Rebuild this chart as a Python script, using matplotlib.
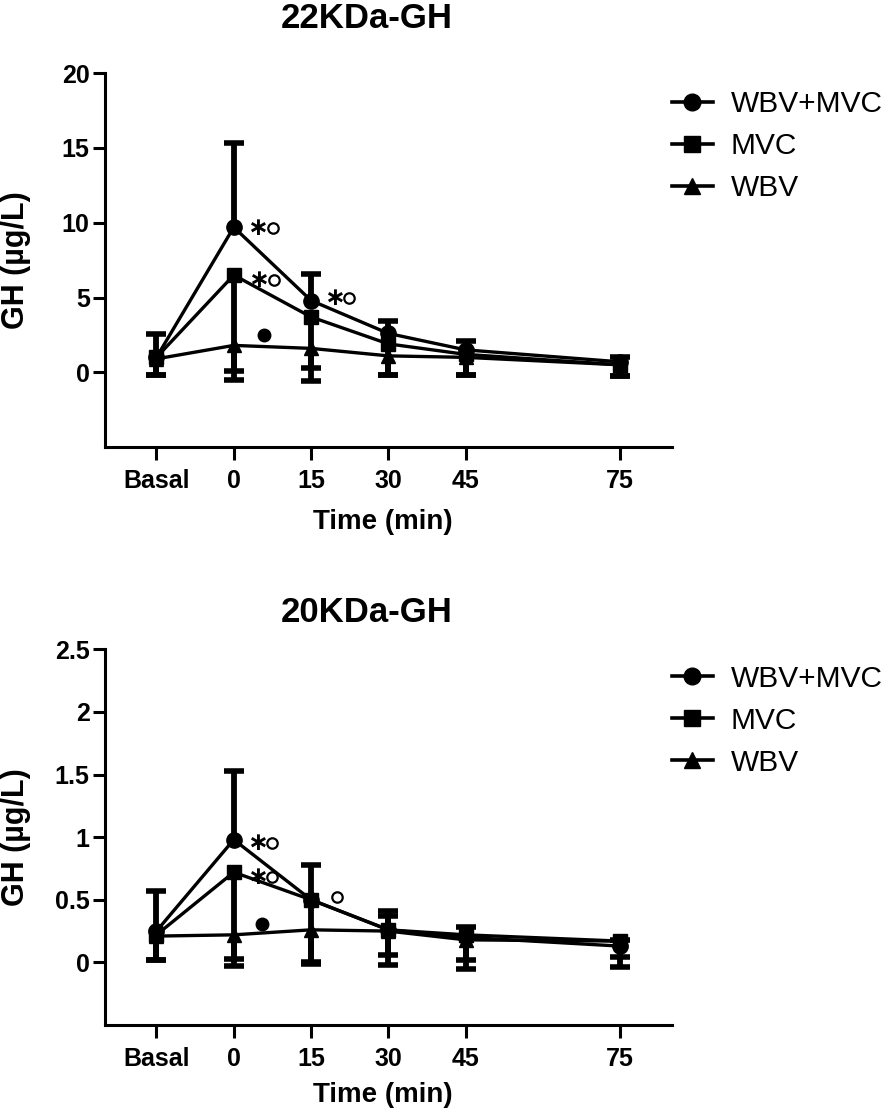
import numpy as np
import matplotlib
matplotlib.use('Agg')
import matplotlib.pyplot as plt
from matplotlib.lines import Line2D
from matplotlib.ticker import FuncFormatter

plt.rcParams['font.family'] = ['Liberation Sans', 'DejaVu Sans']
plt.rcParams['font.weight'] = 'bold'
plt.rcParams['axes.labelweight'] = 'bold'

# --- data -------------------------------------------------------------
time_pos = [-15, 0, 15, 30, 45, 75]
time_labels = ['Basal', '0', '15', '30', '45', '75']
series_names = ['WBV+MVC', 'MVC', 'WBV']
series_markers = ['o', 's', '^']
series_msize = [11, 10, 10]

# 22KDa-GH (ug/L): mean, lower error, upper error
gh22_combo = [1.0, 9.7, 4.8, 2.6, 1.5, 0.7]
gh22_combo_lo = [0, 0, 0, 0, 0, 0]
gh22_combo_up = [1.55, 5.6, 1.8, 0.8, 0.6, 0.3]
gh22_mvc = [1.0, 6.5, 3.7, 1.9, 1.2, 0.5]
gh22_mvc_lo = [1.2, 7.0, 4.3, 2.1, 1.4, 0.75]
gh22_mvc_up = [0, 0, 0, 0, 0, 0]
gh22_wbv = [0.9, 1.8, 1.6, 1.1, 1.0, 0.5]
gh22_wbv_lo = [1.1, 1.7, 1.3, 1.3, 1.2, 0.75]
gh22_wbv_up = [0, 0, 0, 0, 0, 0]

# 20KDa-GH (ug/L)
gh20_combo = [0.25, 0.98, 0.50, 0.26, 0.20, 0.13]
gh20_combo_lo = [0, 0, 0, 0, 0, 0]
gh20_combo_up = [0.32, 0.55, 0.28, 0.15, 0.08, 0.05]
gh20_mvc = [0.22, 0.72, 0.50, 0.26, 0.22, 0.17]
gh20_mvc_lo = [0.20, 0.75, 0.51, 0.28, 0.27, 0.21]
gh20_mvc_up = [0, 0, 0, 0.11, 0, 0]
gh20_wbv = [0.21, 0.22, 0.26, 0.25, 0.18, 0.17]
gh20_wbv_lo = [0.19, 0.19, 0.26, 0.19, 0.16, 0.13]
gh20_wbv_up = [0, 0, 0, 0, 0, 0]

# significance marks: (kind, x, y)  star = *, open = o, dot = filled
marks22 = [('star', 4.7, 9.67), ('open', 7.6, 9.67),
           ('star', 4.9, 6.2), ('open', 7.8, 6.2),
           ('star', 19.6, 5.0), ('open', 22.3, 5.0),
           ('dot', 5.8, 2.5)]
marks20 = [('star', 4.7, 0.955), ('open', 7.4, 0.955),
           ('star', 4.7, 0.685), ('open', 7.4, 0.685),
           ('open', 20.0, 0.525),
           ('dot', 5.4, 0.31)]


def draw_panel(ax, means, los, ups, ylim, yticks, marks):
    for y, lo, up, mk, ms in zip(means, los, ups, series_markers, series_msize):
        x = np.array(time_pos, dtype=float)
        y = np.array(y); lo = np.array(lo); up = np.array(up)
        ax.vlines(x, y - lo, y + up, color='black', lw=4.2, zorder=2)
        sel = lo > 0
        ax.plot(x[sel], (y - lo)[sel], ls='none', marker='_', ms=14, mew=4,
                color='black', zorder=2)
        sel = up > 0
        ax.plot(x[sel], (y + up)[sel], ls='none', marker='_', ms=14, mew=4,
                color='black', zorder=2)
        ax.plot(x, y, color='black', lw=2.4, marker=mk, ms=ms, zorder=3)
    for kind, tx, ty in marks:
        if kind == 'star':
            ax.text(tx, ty, '∗', fontsize=18, ha='center', va='center',
                    family=['DejaVu Sans'], fontweight='bold')
        elif kind == 'open':
            ax.plot(tx, ty, ls='none', marker='o', ms=7.5, mfc='white',
                    mec='black', mew=1.6)
        else:
            ax.plot(tx, ty, ls='none', marker='o', ms=9, color='black')

    ax.set_xlim(-25, 85)
    ax.set_ylim(*ylim)
    ax.set_xticks(time_pos)
    ax.set_xticklabels(time_labels)
    ax.set_yticks(yticks)
    ax.yaxis.set_major_formatter(FuncFormatter(lambda v, p: '%g' % v))
    for s in ['top', 'right']:
        ax.spines[s].set_visible(False)
    for s in ['left', 'bottom']:
        ax.spines[s].set_linewidth(2.2)
    ax.tick_params(direction='out', length=9, width=2.2, labelsize=18)
    ax.tick_params(axis='x', pad=7)
    ax.tick_params(axis='y', pad=2)
    ax.set_ylabel('GH (µg/L)', fontsize=22)
    ax.yaxis.set_label_coords(-0.131, 0.5)

    handles = [Line2D([], [], color='black', lw=2.6, marker=m, ms=ms + 1)
               for m, ms in zip(series_markers, series_msize)]
    return handles


fig = plt.figure(figsize=(8.94, 11.15), dpi=100)

ax1 = fig.add_axes([0.1174, 0.599, 0.634, 0.3354])
h = draw_panel(ax1, [gh22_combo, gh22_mvc, gh22_wbv],
               [gh22_combo_lo, gh22_mvc_lo, gh22_wbv_lo],
               [gh22_combo_up, gh22_mvc_up, gh22_wbv_up],
               (-5, 20), [0, 5, 10, 15, 20], marks22)
ax1.set_xlabel('Time (min)', fontsize=20)
ax1.xaxis.set_label_coords(0.49, -0.165)
ax1.legend(h, series_names, loc='upper left', bbox_to_anchor=(0.752, 0.919),
           bbox_transform=fig.transFigure, frameon=False, borderpad=0,
           borderaxespad=0, handlelength=1.35, handletextpad=0.6,
           labelspacing=0.47, prop={'size': 21.5, 'weight': 'normal'})

ax2 = fig.add_axes([0.1174, 0.0807, 0.634, 0.337])
h = draw_panel(ax2, [gh20_combo, gh20_mvc, gh20_wbv],
               [gh20_combo_lo, gh20_mvc_lo, gh20_wbv_lo],
               [gh20_combo_up, gh20_mvc_up, gh20_wbv_up],
               (-0.5, 2.5), [0, 0.5, 1, 1.5, 2, 2.5], marks20)
ax2.set_xlabel('Time (min)', fontsize=20)
ax2.xaxis.set_label_coords(0.49, -0.152)
ax2.legend(h, series_names, loc='upper left', bbox_to_anchor=(0.752, 0.404),
           bbox_transform=fig.transFigure, frameon=False, borderpad=0,
           borderaxespad=0, handlelength=1.35, handletextpad=0.6,
           labelspacing=0.47, prop={'size': 21.5, 'weight': 'normal'})

fig.text(367 / 894, 1 - 18 / 1115, '22KDa-GH', fontsize=25, ha='center', va='center')
fig.text(367 / 894, 1 - 612 / 1115, '20KDa-GH', fontsize=25, ha='center', va='center')

fig.savefig('out.png', dpi=100)
